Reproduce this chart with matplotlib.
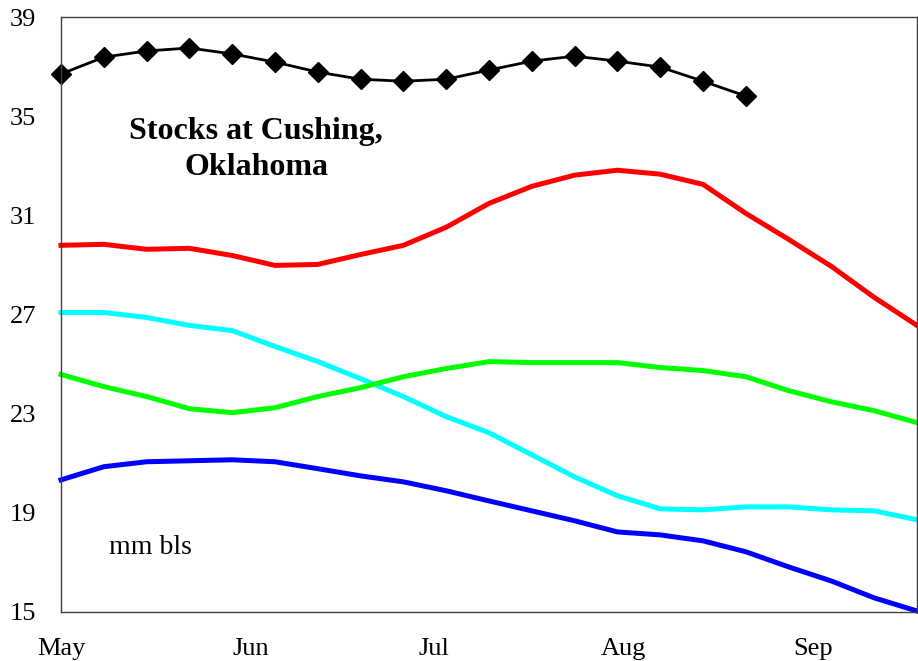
import matplotlib.pyplot as plt
import numpy as np

plt.rcParams['font.family'] = ['Liberation Serif', 'DejaVu Serif']

# weekly readings, days counted from May 1
weeks = np.arange(21)
days = weeks * 7

month_days = [0, 31, 61, 92, 123]
month_labels = ["May", "Jun", "Jul", "Aug", "Sep"]

stocks_current = [36.70, 37.38, 37.63, 37.75, 37.51, 37.18, 36.78, 36.49, 36.41,
                  36.49, 36.86, 37.22, 37.42, 37.22, 36.98, 36.41, 35.81]
stocks_red = [29.79, 29.83, 29.63, 29.67, 29.38, 28.98, 29.02, 29.42, 29.79, 30.52,
              31.48, 32.17, 32.62, 32.82, 32.66, 32.25, 31.08, 30.03, 28.94, 27.69, 26.56]
stocks_cyan = [27.08, 27.08, 26.88, 26.56, 26.35, 25.71, 25.10, 24.41, 23.69, 22.88,
               22.23, 21.34, 20.45, 19.69, 19.16, 19.12, 19.24, 19.24, 19.12, 19.08, 18.72]
stocks_green = [24.58, 24.09, 23.69, 23.20, 23.04, 23.24, 23.69, 24.05, 24.49, 24.82,
                25.10, 25.06, 25.06, 25.06, 24.86, 24.74, 24.49, 23.93, 23.48, 23.12, 22.64]
stocks_blue = [20.33, 20.86, 21.06, 21.10, 21.14, 21.06, 20.78, 20.49, 20.25, 19.89,
               19.48, 19.08, 18.68, 18.23, 18.11, 17.87, 17.43, 16.82, 16.25, 15.57, 15.04]

fig = plt.figure(figsize=(9.18, 6.61), dpi=100)
ax = fig.add_axes([61 / 918, 49 / 661, 856 / 918, 595 / 661])

lw = 3.6
ax.plot(days, stocks_red, color="#ff0000", lw=lw, clip_on=False)
ax.plot(days, stocks_cyan, color="#00ffff", lw=lw, clip_on=False)
ax.plot(days, stocks_green, color="#00ff00", lw=lw, clip_on=False)
ax.plot(days, stocks_blue, color="#0000ff", lw=lw, clip_on=False)
ax.plot(days[:len(stocks_current)], stocks_current, color="black", lw=2,
        marker="D", markersize=10.5, clip_on=False)

ax.set_xlim(0, 140)
ax.set_ylim(15, 39)
ax.set_yticks(np.arange(15, 40, 4))
ax.set_xticks(month_days)
ax.set_xticklabels(month_labels)
ax.tick_params(axis="both", length=0, labelsize=19)
ax.tick_params(axis="y", pad=18)
ax.tick_params(axis="x", pad=19)

for side in ax.spines.values():
    side.set_color("#404040")
    side.set_linewidth(1)

ax.text(0.228, 0.778, "Stocks at Cushing,\nOklahoma", transform=ax.transAxes,
        ha="center", va="center", fontsize=23, fontweight="bold", linespacing=1.32)
ax.text(0.104, 0.108, "mm bls", transform=ax.transAxes, ha="center", va="center",
        fontsize=20)

fig.savefig("out.png", dpi=100)
